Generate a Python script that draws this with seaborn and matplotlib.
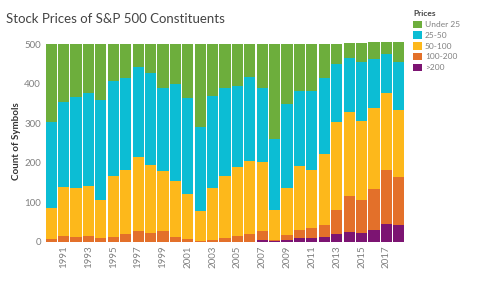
import numpy as np
import pandas as pd
import seaborn as sns
from matplotlib import pyplot as plt
from matplotlib.patches import Patch

years = [str(y) for y in range(1990, 2019)]

under_25 = [197, 146, 135, 123, 142, 93, 86, 57, 72, 112, 101, 136, 211, 132, 111,
            106, 83, 110, 240, 151, 118, 120, 87, 52, 40, 49, 43, 31, 51]
p25_50 = [218, 215, 230, 237, 253, 241, 233, 230, 234, 209, 245, 244, 211, 232, 223,
          205, 214, 189, 179, 214, 191, 199, 192, 147, 135, 149, 126, 100, 122]
p50_100 = [78, 125, 123, 126, 97, 155, 161, 186, 173, 152, 142, 114, 77, 132, 158,
           175, 184, 175, 76, 119, 162, 147, 178, 222, 213, 201, 204, 194, 170]
p100_200 = [7, 14, 12, 14, 8, 11, 20, 27, 21, 27, 12, 6, 1, 4, 8,
            14, 19, 23, 3, 11, 21, 24, 31, 61, 91, 83, 104, 137, 121]
over_200 = [0, 0, 0, 0, 0, 0, 0, 0, 0, 0, 0, 0, 0, 0, 0,
            0, 0, 3, 2, 5, 8, 10, 12, 19, 25, 22, 29, 44, 42]

labels = ['Under 25', '25-50', '50-100', '100-200', '>200']
colors = ['#6DAE3C', '#0CBDD4', '#FDB81B', '#E3702A', '#7C1472']

df = pd.DataFrame({'Year': years, 'Under 25': under_25, '25-50': p25_50,
                   '50-100': p50_100, '100-200': p100_200, '>200': over_200})

sns.set_theme(style='white')
plt.rcParams['font.family'] = ['Lato', 'DejaVu Sans']

fig = plt.figure(figsize=(5, 2.82), dpi=100)
ax = fig.add_axes([0.09, 0.1436, 0.72, 0.714])

# stack from the bottom: >200 first, Under 25 on top
bottom = np.zeros(len(years))
for lab, col in reversed(list(zip(labels, colors))):
    sns.barplot(data=df, x='Year', y=lab, color=col, saturation=1, width=0.9,
                bottom=bottom, ax=ax, linewidth=0)
    bottom = bottom + df[lab].values

ax.set_ylim(0, 510)
ax.set_xlim(-0.5, len(years) - 0.5)
ax.set_yticks([0, 100, 200, 300, 400, 500])
ax.set_xticks(range(1, len(years), 2))
ax.set_xticklabels(years[1::2], rotation=90)
ax.tick_params(axis='both', length=0, labelsize=7, colors='#808080', pad=3)
ax.set_xlabel('')
ax.set_ylabel('Count of Symbols', fontsize=7, fontweight='bold', color='#333333', labelpad=2)
for s in ax.spines.values():
    s.set_visible(False)

fig.text(0.012, 0.932, 'Stock Prices of S&P 500 Constituents', fontsize=9.5, color='#444444',
         ha='left', va='center')

handles = [Patch(facecolor=c, edgecolor='none') for c in colors]
leg = fig.legend(handles, labels, title='Prices', loc='upper left', bbox_to_anchor=(0.82, 0.975),
                 frameon=False, fontsize=6, title_fontsize=6, handlelength=1.0, handleheight=1.0,
                 labelspacing=0.38, handletextpad=0.4, borderaxespad=0)
leg.get_title().set_fontweight('bold')
leg.get_title().set_color('#444444')
leg._legend_box.align = 'left'
for t in leg.get_texts():
    t.set_color('#808080')

fig.savefig('out.png', dpi=100)
